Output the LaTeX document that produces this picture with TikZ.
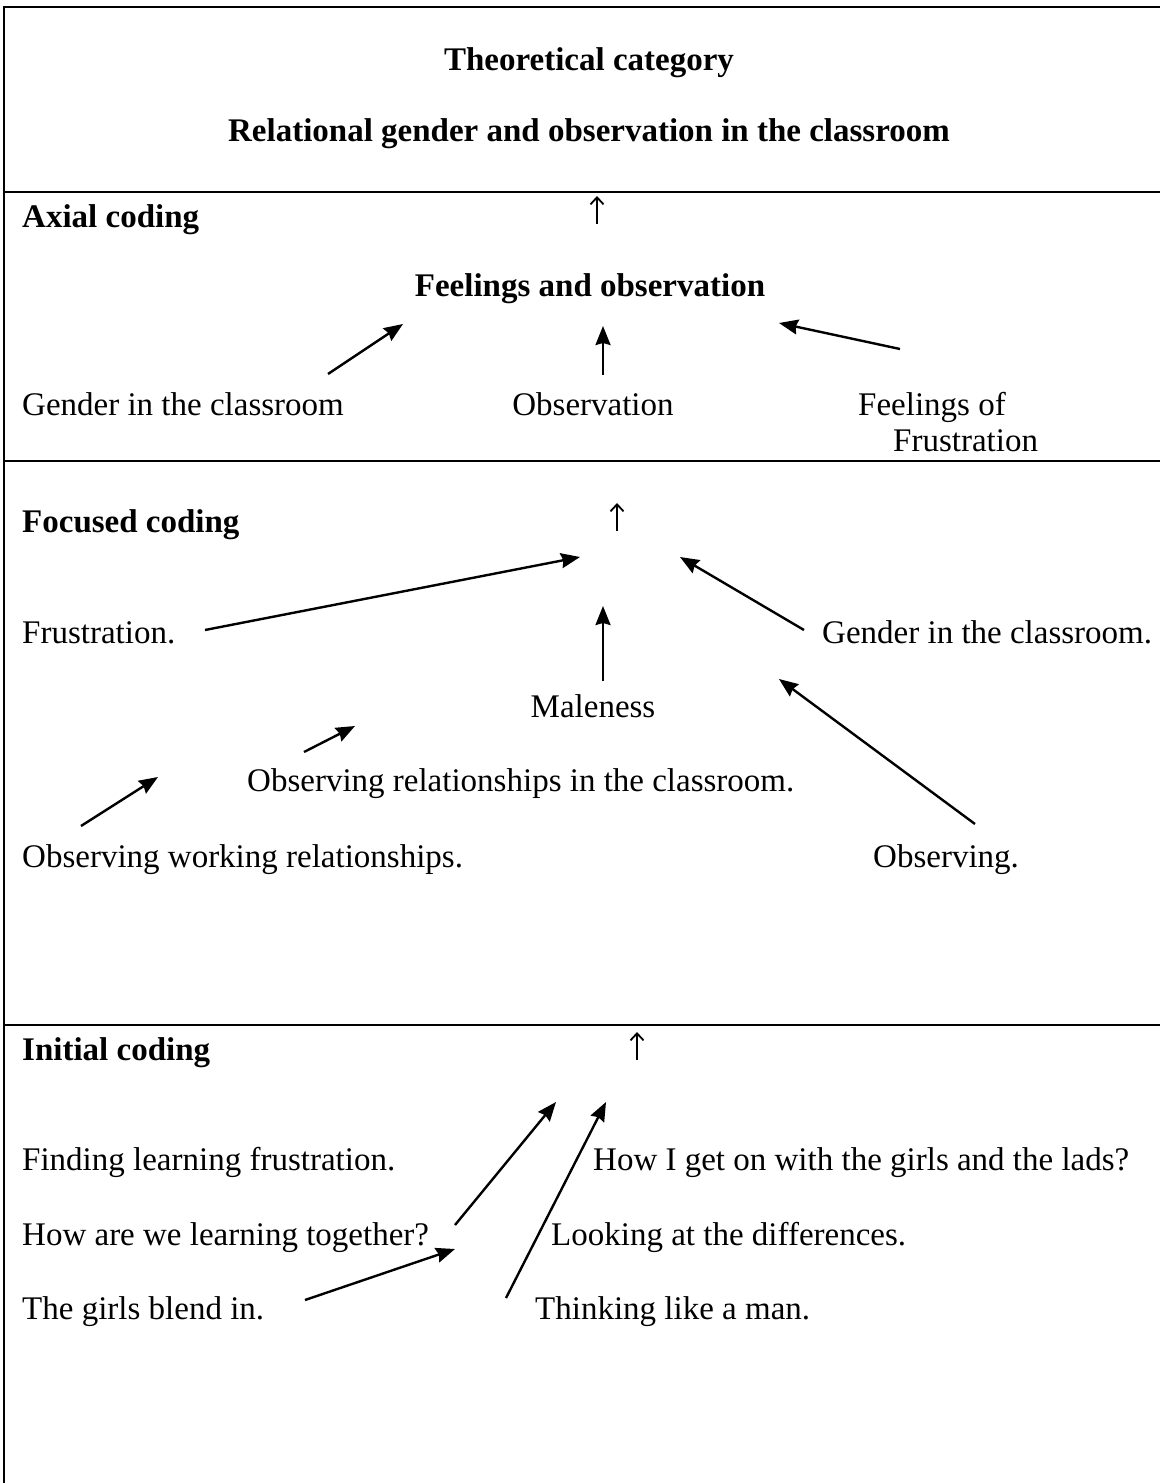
\documentclass[tikz,border=0pt]{standalone}
\usepackage{fontspec}
\setmainfont{Liberation Serif}
\usetikzlibrary{arrows.meta}
\begin{document}
\begin{tikzpicture}[x=1pt,y=-1pt,
  txt/.style={inner sep=0pt, font=\fontsize{33}{40}\selectfont, anchor=base west},
  ctxt/.style={inner sep=0pt, font=\fontsize{33}{40}\selectfont, anchor=base},
  btxt/.style={inner sep=0pt, font=\fontsize{33}{40}\selectfont\bfseries, anchor=base west},
  bctxt/.style={inner sep=0pt, font=\fontsize{33}{40}\selectfont\bfseries, anchor=base},
  rule/.style={line width=2pt},
  bigarrow/.style={line width=2.4pt, -{Stealth[length=19pt, width=15pt, inset=2pt]}},
  uparrow/.style={line width=1.8pt, -{Straight Barb[length=7pt, width=13pt, line width=1.8pt]}}
]
\useasboundingbox (0,0) rectangle (1160,1483);
\fill[white] (0,0) rectangle (1160,1483);
% frame and section rules
\draw[rule] (1160,7) -- (4,7) -- (4,1483);
\draw[rule] (4,192) -- (1160,192);
\draw[rule] (4,461) -- (1160,461);
\draw[rule] (4,1025) -- (1160,1025);

% Theoretical category
\node[bctxt] (tc) at (589,70) {Theoretical category};
\node[bctxt] (rg) at (589,141) {Relational gender and observation in the classroom};

% Axial coding
\node[btxt] (axial) at (22,227) {Axial coding};
\coordinate (ua1) at (597,224);
\coordinate (ua1t) at (597,196);
\draw[uparrow] (ua1) -- (ua1t);
\node[bctxt] (fo) at (590,296) {Feelings and observation};
\node[txt] (gic) at (22,415) {Gender in the classroom};
\node[ctxt] (obs) at (593,415) {Observation};
\node[txt] (feel) at (858,415) {Feelings of};
\node[txt] (frus) at (893,451) {Frustration};
\coordinate (a1s) at (328,374);
\coordinate (a1e) at (403,324);
\coordinate (a2s) at (603,375);
\coordinate (a2e) at (603,326);
\coordinate (a3s) at (900,349);
\coordinate (a3e) at (779,323);
\draw[bigarrow] (a1s) -- (a1e);
\draw[bigarrow] (a2s) -- (a2e);
\draw[bigarrow] (a3s) -- (a3e);

% Focused coding
\node[btxt] (focused) at (22,532) {Focused coding};
\coordinate (ua2) at (617,531);
\coordinate (ua2t) at (617,503);
\draw[uparrow] (ua2) -- (ua2t);
\node[txt] (frus2) at (22,643) {Frustration.};
\node[txt] (gic2) at (822,643) {Gender in the classroom.};
\node[ctxt] (male) at (593,717) {Maleness};
\node[txt] (orc) at (247,791) {Observing relationships in the classroom.};
\node[txt] (owr) at (22,867) {Observing working relationships.};
\node[txt] (obsg) at (873,867) {Observing.};
\coordinate (b1s) at (205,630);
\coordinate (b1e) at (580,557);
\coordinate (b2s) at (603,681);
\coordinate (b2e) at (603,606);
\coordinate (b3s) at (804,630);
\coordinate (b3e) at (680,557);
\coordinate (b4s) at (975,824);
\coordinate (b4e) at (779,679);
\coordinate (b5s) at (304,752);
\coordinate (b5e) at (355,726);
\coordinate (b6s) at (81,826);
\coordinate (b6e) at (158,777);
\draw[bigarrow] (b1s) -- (b1e);
\draw[bigarrow] (b2s) -- (b2e);
\draw[bigarrow] (b3s) -- (b3e);
\draw[bigarrow] (b4s) -- (b4e);
\draw[bigarrow] (b5s) -- (b5e);
\draw[bigarrow] (b6s) -- (b6e);

% Initial coding
\node[btxt] (initial) at (22,1060) {Initial coding};
\coordinate (ua3) at (637,1060);
\coordinate (ua3t) at (637,1032);
\draw[uparrow] (ua3) -- (ua3t);
\node[txt] (find) at (22,1170) {Finding learning frustration.};
\node[txt] (howare) at (22,1245) {How are we learning together?};
\node[txt] (girls) at (22,1319) {The girls blend in.};
\node[txt] (howi) at (593,1170) {How I get on with the girls and the lads?};
\node[txt] (look) at (551,1245) {Looking at the differences.};
\node[txt] (think) at (535,1319) {Thinking like a man.};
\coordinate (c1s) at (455,1225);
\coordinate (c1e) at (556,1102);
\coordinate (c2s) at (506,1298);
\coordinate (c2e) at (606,1102);
\coordinate (c3s) at (305,1300);
\coordinate (c3e) at (455,1249);
\draw[bigarrow] (c1s) -- (c1e);
\draw[bigarrow] (c2s) -- (c2e);
\draw[bigarrow] (c3s) -- (c3e);
\end{tikzpicture}
\end{document}
